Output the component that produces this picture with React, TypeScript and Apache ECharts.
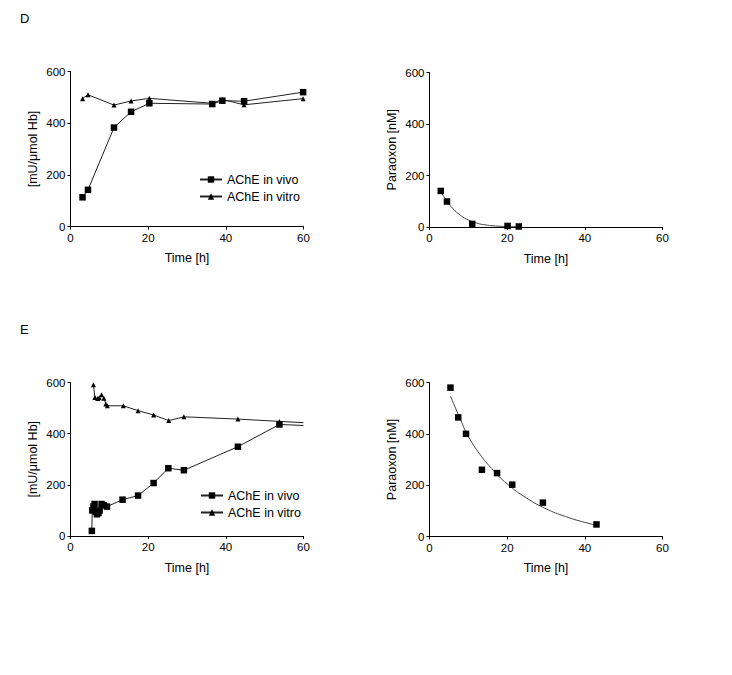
import React, { useEffect, useRef } from "react";
import * as echarts from "echarts";

// Panel D – AChE activity
const dTime = [3.1, 4.5, 11.2, 15.6, 20.3, 36.5, 39.1, 44.7, 59.9];
const dVivo = [113, 142, 383, 444, 477, 474, 487, 485, 520];
const dVitro = [495, 510, 470, 486, 496, 477, 492, 471, 495];

// Panel D – Paraoxon
const dParaTime = [2.9, 4.5, 11.0, 20.1, 23.0];
const dPara = [140, 99, 12, 4, 2];
const dFitTime = [3, 4.5, 6, 8, 10, 12, 14, 17, 20, 23];
const dFit = [135, 100, 72, 45, 27, 16, 9, 4, 2, 1];

// Panel E – AChE activity
const eVivoTime = [5.5, 5.6, 5.9, 6.2, 6.5, 6.8, 7.2, 7.5, 8.0, 8.6, 9.4, 13.4, 17.4, 21.4, 25.2, 29.2, 43.1, 53.8, 60];
const eVivo = [20, 100, 115, 125, 95, 85, 90, 100, 125, 120, 115, 142, 158, 207, 265, 257, 349, 436, 432];
const eVitroTime = [5.9, 6.3, 7.0, 7.4, 8.0, 8.6, 9.1, 9.5, 13.6, 17.4, 21.4, 25.3, 29.2, 43.1, 53.8, 60];
const eVitro = [591, 541, 537, 540, 552, 538, 516, 509, 509, 490, 473, 451, 466, 457, 448, 443];

// Panel E – Paraoxon
const eParaTime = [5.4, 7.4, 9.4, 13.5, 17.4, 21.3, 29.2, 43.0];
const ePara = [580, 464, 400, 260, 247, 202, 132, 47];
const eFitTime = [5.4, 8, 10, 13, 16, 20, 25, 30, 35, 40, 43];
const eFit = [547, 455, 390, 320, 265, 205, 150, 108, 78, 55, 44];

const xTicks = [0, 20, 40, 60];
const yTicks = [0, 200, 400, 600];

const FONT = "Liberation Sans, Arial, sans-serif";
const INK = "#000";

const pairs = (xs: number[], ys: number[]) => xs.map((x, i) => [x, ys[i]]);
const pairsEnd = (xs: number[], ys: number[]) =>
  xs.map((x, i) => (x >= 60 ? { value: [x, ys[i]], symbol: "none" } : [x, ys[i]]));

function xAxis(gridIndex: number) {
  return {
    type: "value",
    gridIndex,
    min: xTicks[0],
    max: xTicks[xTicks.length - 1],
    interval: 20,
    name: "Time [h]",
    nameLocation: "middle",
    nameGap: 25,
    nameTextStyle: { fontFamily: FONT, fontSize: 12.5, color: INK },
    axisLine: { show: true, onZero: false, lineStyle: { color: INK, width: 1 } },
    axisTick: { show: true, length: 3, lineStyle: { color: INK } },
    axisLabel: { margin: 5, fontFamily: FONT, fontSize: 11.5, color: INK },
    splitLine: { show: false },
  };
}

function yAxis(gridIndex: number, name: string) {
  return {
    type: "value",
    gridIndex,
    min: yTicks[0],
    max: yTicks[yTicks.length - 1],
    interval: 200,
    name,
    nameLocation: "middle",
    nameGap: 31,
    nameRotate: 90,
    nameTextStyle: { fontFamily: FONT, fontSize: 12.5, color: INK },
    axisLine: { show: true, onZero: false, lineStyle: { color: INK, width: 1 } },
    axisTick: { show: true, length: 3, lineStyle: { color: INK } },
    axisLabel: { margin: 5, fontFamily: FONT, fontSize: 11.5, color: INK },
    splitLine: { show: false },
  };
}

export default function App() {
  const ref = useRef<HTMLDivElement>(null);
  useEffect(() => {
    if (!ref.current) return;
    const chart = echarts.init(ref.current, undefined, { renderer: "svg" });
    const lineBase = {
      type: "line",
      lineStyle: { color: "#222", width: 1 },
      itemStyle: { color: INK, opacity: 1 },
      emphasis: { disabled: true },
      clip: true,
    };
    const scatterBase = {
      type: "scatter",
      symbol: "rect",
      symbolSize: 6.5,
      itemStyle: { color: INK, opacity: 1 },
      emphasis: { disabled: true },
      z: 3,
    };
    const legendBase = {
      data: ["AChE in vivo", "AChE in vitro"],
      orient: "vertical",
      itemWidth: 22,
      itemHeight: 8,
      itemGap: 4,
      padding: 0,
      textStyle: { fontFamily: FONT, fontSize: 12.5, color: INK },
      selectedMode: false,
    };
    chart.setOption({
      animation: false,
      backgroundColor: "#fff",
      textStyle: { fontFamily: FONT },
      grid: [
        { left: 70.5, top: 71.5, width: 233, height: 155 },
        { left: 429.5, top: 72.5, width: 233, height: 154.5 },
        { left: 70.5, top: 382.5, width: 233, height: 153.5 },
        { left: 429.5, top: 382.5, width: 233, height: 154 },
      ],
      xAxis: [xAxis(0), xAxis(1), xAxis(2), xAxis(3)],
      yAxis: [
        yAxis(0, "[mU/μmol Hb]"),
        yAxis(1, "Paraoxon [nM]"),
        yAxis(2, "[mU/μmol Hb]"),
        yAxis(3, "Paraoxon [nM]"),
      ],
      legend: [
        { ...legendBase, left: 199, top: 173 },
        { ...legendBase, left: 200, top: 489 },
      ],
      graphic: [
        { type: "text", left: 20, top: 12, style: { text: "D", fontFamily: FONT, fontSize: 13, fill: INK } },
        { type: "text", left: 20, top: 323, style: { text: "E", fontFamily: FONT, fontSize: 13, fill: INK } },
      ],
      series: [
        {
          ...lineBase,
          name: "AChE in vivo",
          xAxisIndex: 0,
          yAxisIndex: 0,
          symbol: "rect",
          symbolSize: 6.5,
          data: pairs(dTime, dVivo),
          z: 3,
        },
        {
          ...lineBase,
          name: "AChE in vitro",
          xAxisIndex: 0,
          yAxisIndex: 0,
          symbol: "triangle",
          symbolSize: 5,
          data: pairs(dTime, dVitro),
          z: 2,
        },
        {
          type: "line",
          name: "fitD",
          xAxisIndex: 1,
          yAxisIndex: 1,
          smooth: true,
          showSymbol: false,
          lineStyle: { color: "#444", width: 1 },
          data: pairs(dFitTime, dFit),
          z: 2,
        },
        {
          ...scatterBase,
          name: "paraD",
          xAxisIndex: 1,
          yAxisIndex: 1,
          data: pairs(dParaTime, dPara),
        },
        {
          ...lineBase,
          name: "AChE in vivo",
          xAxisIndex: 2,
          yAxisIndex: 2,
          symbol: "rect",
          symbolSize: 6.5,
          data: pairsEnd(eVivoTime, eVivo),
          z: 3,
        },
        {
          ...lineBase,
          name: "AChE in vitro",
          xAxisIndex: 2,
          yAxisIndex: 2,
          symbol: "triangle",
          symbolSize: 5,
          data: pairsEnd(eVitroTime, eVitro),
          z: 2,
        },
        {
          type: "line",
          name: "fitE",
          xAxisIndex: 3,
          yAxisIndex: 3,
          smooth: true,
          showSymbol: false,
          lineStyle: { color: "#444", width: 1 },
          data: pairs(eFitTime, eFit),
          z: 2,
        },
        {
          ...scatterBase,
          name: "paraE",
          xAxisIndex: 3,
          yAxisIndex: 3,
          data: pairs(eParaTime, ePara),
        },
      ],
    });
    return () => chart.dispose();
  }, []);
  return (
    <div
      ref={ref}
      style={{ position: "absolute", left: 0, top: 0, width: 732, height: 675, background: "#fff" }}
    />
  );
}
